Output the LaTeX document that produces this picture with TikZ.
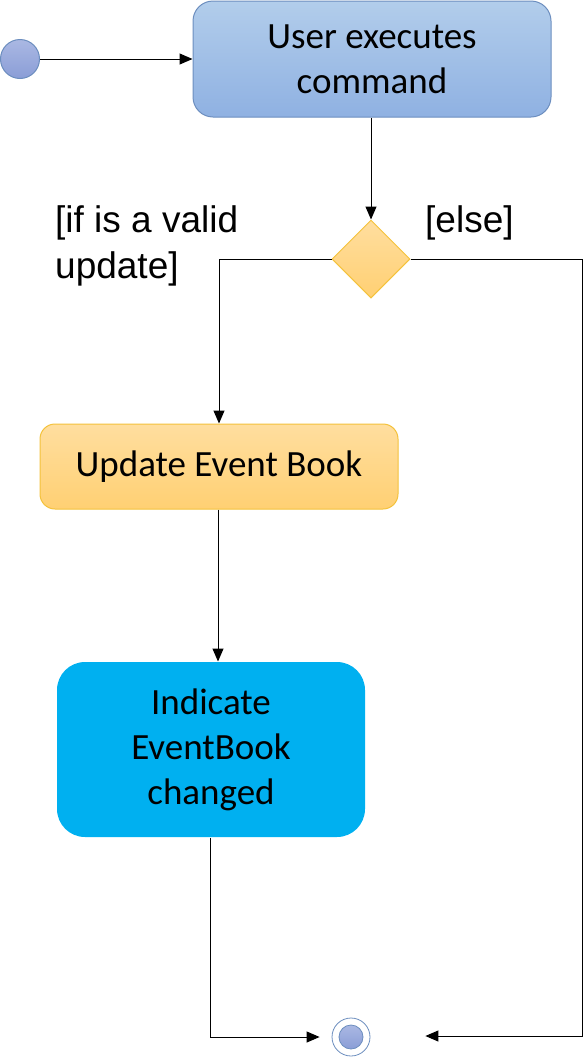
\documentclass[tikz,border=0pt]{standalone}
\usepackage{fontspec}
\setmainfont{Carlito}
\newfontfamily\guardfont{Liberation Sans}
\usetikzlibrary{arrows.meta,shapes.geometric}
\definecolor{adInk}{HTML}{000000}
\definecolor{adBlueLine}{HTML}{6C8EBF}
\definecolor{adBlueTop}{HTML}{B2CDEB}
\definecolor{adBlueBot}{HTML}{8FB1E2}
\definecolor{adDotTop}{HTML}{AAB8E3}
\definecolor{adDotBot}{HTML}{8A9DD6}
\definecolor{adGoldLine}{HTML}{F4C23C}
\definecolor{adGoldTop}{HTML}{FFDE9F}
\definecolor{adGoldBot}{HTML}{FFD073}
\definecolor{adCyan}{HTML}{00B0F0}
\tikzset{
  ad start/.style={circle, draw=adBlueLine, line width=1pt,
    top color=adDotTop, bottom color=adDotBot,
    minimum size=39pt, inner sep=0pt},
  ad end/.style={circle, draw=adBlueLine, line width=.8pt, fill=white,
    minimum size=38pt, inner sep=0pt},
  ad end dot/.style={circle, draw=adBlueLine, line width=.8pt,
    top color=adDotTop, bottom color=adDotBot,
    minimum size=24pt, inner sep=0pt},
  ad action/.style={rectangle, align=center, text=adInk, inner sep=0pt,
    font=\fontsize{37}{45}\selectfont, line width=1pt},
  ad command/.style={ad action, rounded corners=20pt, draw=adBlueLine,
    top color=adBlueTop, bottom color=adBlueBot},
  ad update/.style={ad action, rounded corners=15pt, draw=adGoldLine,
    top color=adGoldTop, bottom color=adGoldBot},
  ad notify/.style={ad action, rounded corners=28pt, fill=adCyan},
  ad decision/.style={diamond, draw=adGoldLine, line width=1pt,
    top color=adGoldTop, bottom color=adGoldBot,
    minimum width=78pt, minimum height=78pt, inner sep=0pt},
  ad guard/.style={font=\guardfont\fontsize{37}{46}\selectfont, text=adInk,
    inner sep=0pt, align=left},
  ad flow/.style={draw=adInk, line width=1pt,
    -{Triangle[length=13pt,width=11pt]}}
}

\begin{document}
\begin{tikzpicture}[x=1pt,y=-1pt]
  \useasboundingbox (0,0) rectangle (584,1058);

  % activity nodes
  \node[ad start] (start) at (20,59) {};
  \node[ad command, minimum width=358pt, minimum height=116pt] (cmd)
    at (372,59) {User executes\\command};
  \node[ad decision] (dec) at (371,259) {};
  \node[ad update, minimum width=358pt, minimum height=85pt] (upd)
    at (219,466.5) {Update Event Book};
  \node[ad notify, minimum width=308pt, minimum height=175pt] (ind)
    at (211,749.5) {Indicate\\EventBook\\changed};
  \node[ad end] (fin) at (351,1037) {};
  \node[ad end dot] (findot) at (fin) {};

  % guards
  \node[ad guard, anchor=north west] (gvalid) at (55,205)
    {[if is a valid\\update]};
  \node[ad guard, anchor=north west] (gelse) at (425,205) {[else]};

  % flows
  \coordinate (rail) at (582,1036);
  \draw[ad flow] (start) -- (start -| cmd.west);
  \draw[ad flow] (cmd.south -| dec) -- (dec.north);
  \draw[ad flow] (dec.west) -| (upd.north);
  \draw[ad flow] (upd.south -| 218,0) -- (218,0 |- ind.north);
  \draw[ad flow, shorten >=12pt] (ind.south -| 210,0) |- (fin.west);
  \draw[ad flow, shorten >=55pt] (dec.east) -| (rail) -- (rail -| fin.east);
\end{tikzpicture}
\end{document}
